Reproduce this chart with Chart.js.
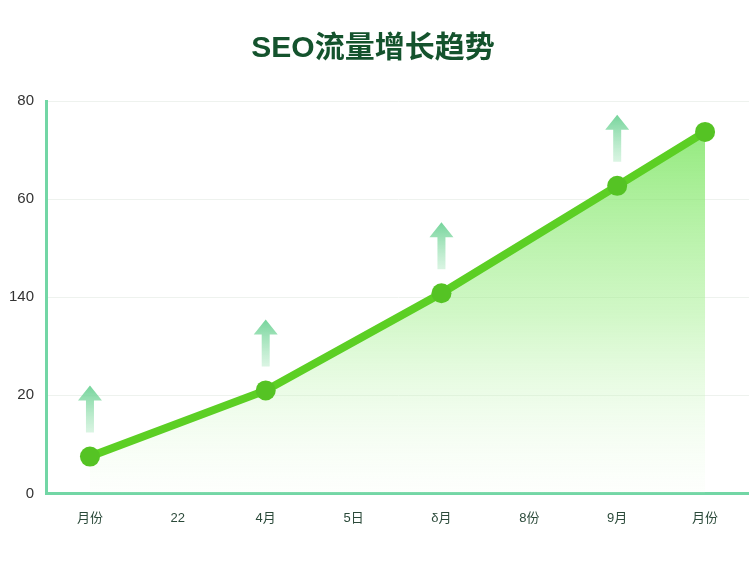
<!DOCTYPE html>
<html>
<head>
<meta charset="utf-8">
<script src="https://cdn.jsdelivr.net/npm/chart.js@4"></script>
<style>
  html, body { margin: 0; padding: 0; background: #ffffff; overflow: hidden; }
  canvas { display: block; }
</style>
</head>
<body>
<canvas id="seoChart" width="749" height="562"></canvas>
<script>
// chart data
const monthLabels = ['月份', '22', '4月', '5日', 'δ月', '8份', '9月', '月份'];
const trafficValues = [7.5, null, 21, null, 40.8, null, 62.7, 73.7];
const arrowFlags = [true, false, true, false, true, false, true, false];
const yTickValues = [0, 20, 40, 60, 80];
const yTickLabels = ['0', '20', '140', '60', '80'];

const fontFamily = '"Liberation Sans", "Noto Sans CJK SC", sans-serif';

// draws the little up arrows above the marked points
const arrowPlugin = {
    id: 'upArrows',
    afterDatasetsDraw(chart) {
        const ctx = chart.ctx;
        const meta = chart.getDatasetMeta(0);
        meta.data.forEach((pt, i) => {
            if (!arrowFlags[i] || trafficValues[i] === null) return;
            const x = pt.x;
            const base = pt.y - 24;
            const top = pt.y - 71;
            const grad = ctx.createLinearGradient(0, top, 0, base);
            grad.addColorStop(0, 'rgba(110, 210, 150, 0.95)');
            grad.addColorStop(1, 'rgba(150, 225, 175, 0.35)');
            ctx.save();
            ctx.fillStyle = grad;
            ctx.beginPath();
            ctx.moveTo(x, top);
            ctx.lineTo(x + 12, top + 15);
            ctx.lineTo(x + 4, top + 15);
            ctx.lineTo(x + 4, base);
            ctx.lineTo(x - 4, base);
            ctx.lineTo(x - 4, top + 15);
            ctx.lineTo(x - 12, top + 15);
            ctx.closePath();
            ctx.fill();
            ctx.restore();
        });
    }
};

const ctx = document.getElementById('seoChart').getContext('2d');
const seoChart = new Chart(ctx, {
    type: 'line',
    data: {
        labels: monthLabels,
        datasets: [{
            label: 'SEO流量',
            data: trafficValues,
            spanGaps: true,
            borderColor: '#5ccf24',
            borderWidth: 8,
            pointRadius: 10,
            pointHoverRadius: 10,
            pointBackgroundColor: '#55c324',
            pointBorderWidth: 0,
            tension: 0,
            clip: false,
            fill: 'origin',
            backgroundColor: (c) => {
                const area = c.chart.chartArea;
                if (!area) return 'rgba(120,230,90,0.4)';
                const g = c.chart.ctx.createLinearGradient(0, area.top, 0, area.bottom);
                g.addColorStop(0, 'rgba(105, 225, 75, 0.8)');
                g.addColorStop(0.55, 'rgba(165, 240, 145, 0.5)');
                g.addColorStop(1, 'rgba(235, 252, 230, 0.1)');
                return g;
            },
        }],
    },
    options: {
        responsive: false,
        animation: false,
        devicePixelRatio: 1,
        layout: {
            autoPadding: false,
            padding: { left: -3, right: 0, top: 0, bottom: 19 },
        },
        plugins: {
            legend: { display: false },
            tooltip: { enabled: false },
            title: {
                display: true,
                text: 'SEO流量增长趋势',
                color: '#14532d',
                font: { family: fontFamily, size: 30, weight: 'bold' },
                padding: { top: 31, bottom: 34 },
            },
        },
        scales: {
            x: {
                offset: true,
                grid: { display: false, drawTicks: false },
                border: { display: true, color: '#72d6a5', width: 3 },
                ticks: {
                    color: '#2b4a3a',
                    font: { family: fontFamily, size: 13 },
                    padding: 17,
                    maxRotation: 0,
                    autoSkip: false,
                },
            },
            y: {
                min: 0,
                max: 80,
                afterBuildTicks: (axis) => {
                    axis.ticks = yTickValues.map(v => ({ value: v }));
                },
                grid: { color: '#eef2ee', drawTicks: false },
                border: { display: true, color: '#72d6a5', width: 3 },
                ticks: {
                    color: '#333333',
                    font: { family: fontFamily, size: 15 },
                    padding: 12,
                    callback: (value) => {
                        const idx = yTickValues.indexOf(value);
                        return idx >= 0 ? yTickLabels[idx] : '';
                    },
                },
            },
        },
    },
    plugins: [arrowPlugin],
});
</script>
</body>
</html>
